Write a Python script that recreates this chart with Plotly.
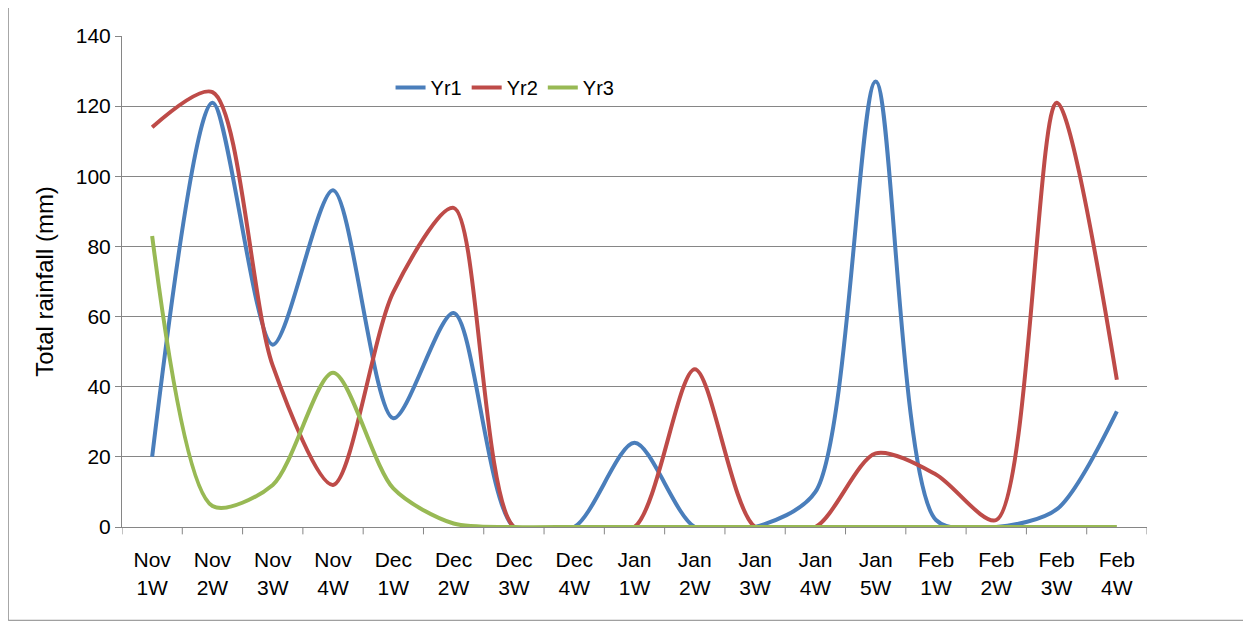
import plotly.graph_objects as go

categories = ["Nov<br>1W","Nov<br>2W","Nov<br>3W","Nov<br>4W","Dec<br>1W","Dec<br>2W","Dec<br>3W","Dec<br>4W",
              "Jan<br>1W","Jan<br>2W","Jan<br>3W","Jan<br>4W","Jan<br>5W","Feb<br>1W","Feb<br>2W","Feb<br>3W","Feb<br>4W"]
yr1 = [20, 121, 52, 96, 31, 61, 0, 0, 24, 0, 0, 10, 127, 2, 0, 5, 33]
yr2 = [114, 124, 46, 12, 67, 91, 0, 0, 0, 45, 0, 0, 21, 15, 2, 121, 42]
yr3 = [83, 6, 12, 44, 11, 1, 0, 0, 0, 0, 0, 0, 0, 0, 0, 0, 0]

fig = go.Figure()
for name, vals, col in [("Yr1", yr1, "#4a7ebb"), ("Yr2", yr2, "#be4b48"), ("Yr3", yr3, "#98b954")]:
    fig.add_trace(go.Scatter(x=list(range(len(categories))), y=vals, name=name, mode="lines",
                             line=dict(color=col, width=4, shape="spline", smoothing=0.8)))

fig.update_layout(
    width=1251, height=630, paper_bgcolor="white", plot_bgcolor="white",
    margin=dict(l=114, r=112, t=28, b=111),
    font=dict(family="Liberation Sans, Arial", size=20, color="black"),
    legend=dict(orientation="h", x=0.262, y=0.895, xanchor="left", yanchor="middle",
                bgcolor="rgba(0,0,0,0)", font=dict(size=20)),
    showlegend=True,
    xaxis=dict(range=[-0.5, 16.5], tickmode="array", tickvals=list(range(17)), ticktext=categories,
               showgrid=False, showline=True, linecolor="#868686", ticks="", zeroline=False,
               tickfont=dict(size=21), ticklabelstandoff=14),
    yaxis=dict(range=[0, 140], dtick=20, showgrid=True, gridcolor="#868686", showline=True,
               linecolor="#868686", ticks="outside", tickcolor="#868686", ticklen=6,
               tickfont=dict(size=21),
               title=dict(text="Total rainfall (mm)", font=dict(size=24)), zeroline=False),
    shapes=[dict(type="rect", xref="paper", yref="paper", x0=-0.111, x1=1.105, y0=-0.19, y1=1.07,
                 line=dict(color="#868686", width=1))],
)
for i in range(18):
    fig.add_shape(type="line", xref="x", yref="paper", x0=i-0.5, x1=i-0.5, y0=0, y1=-0.015,
                  line=dict(color="#868686", width=1))
fig.write_html("out.html")
